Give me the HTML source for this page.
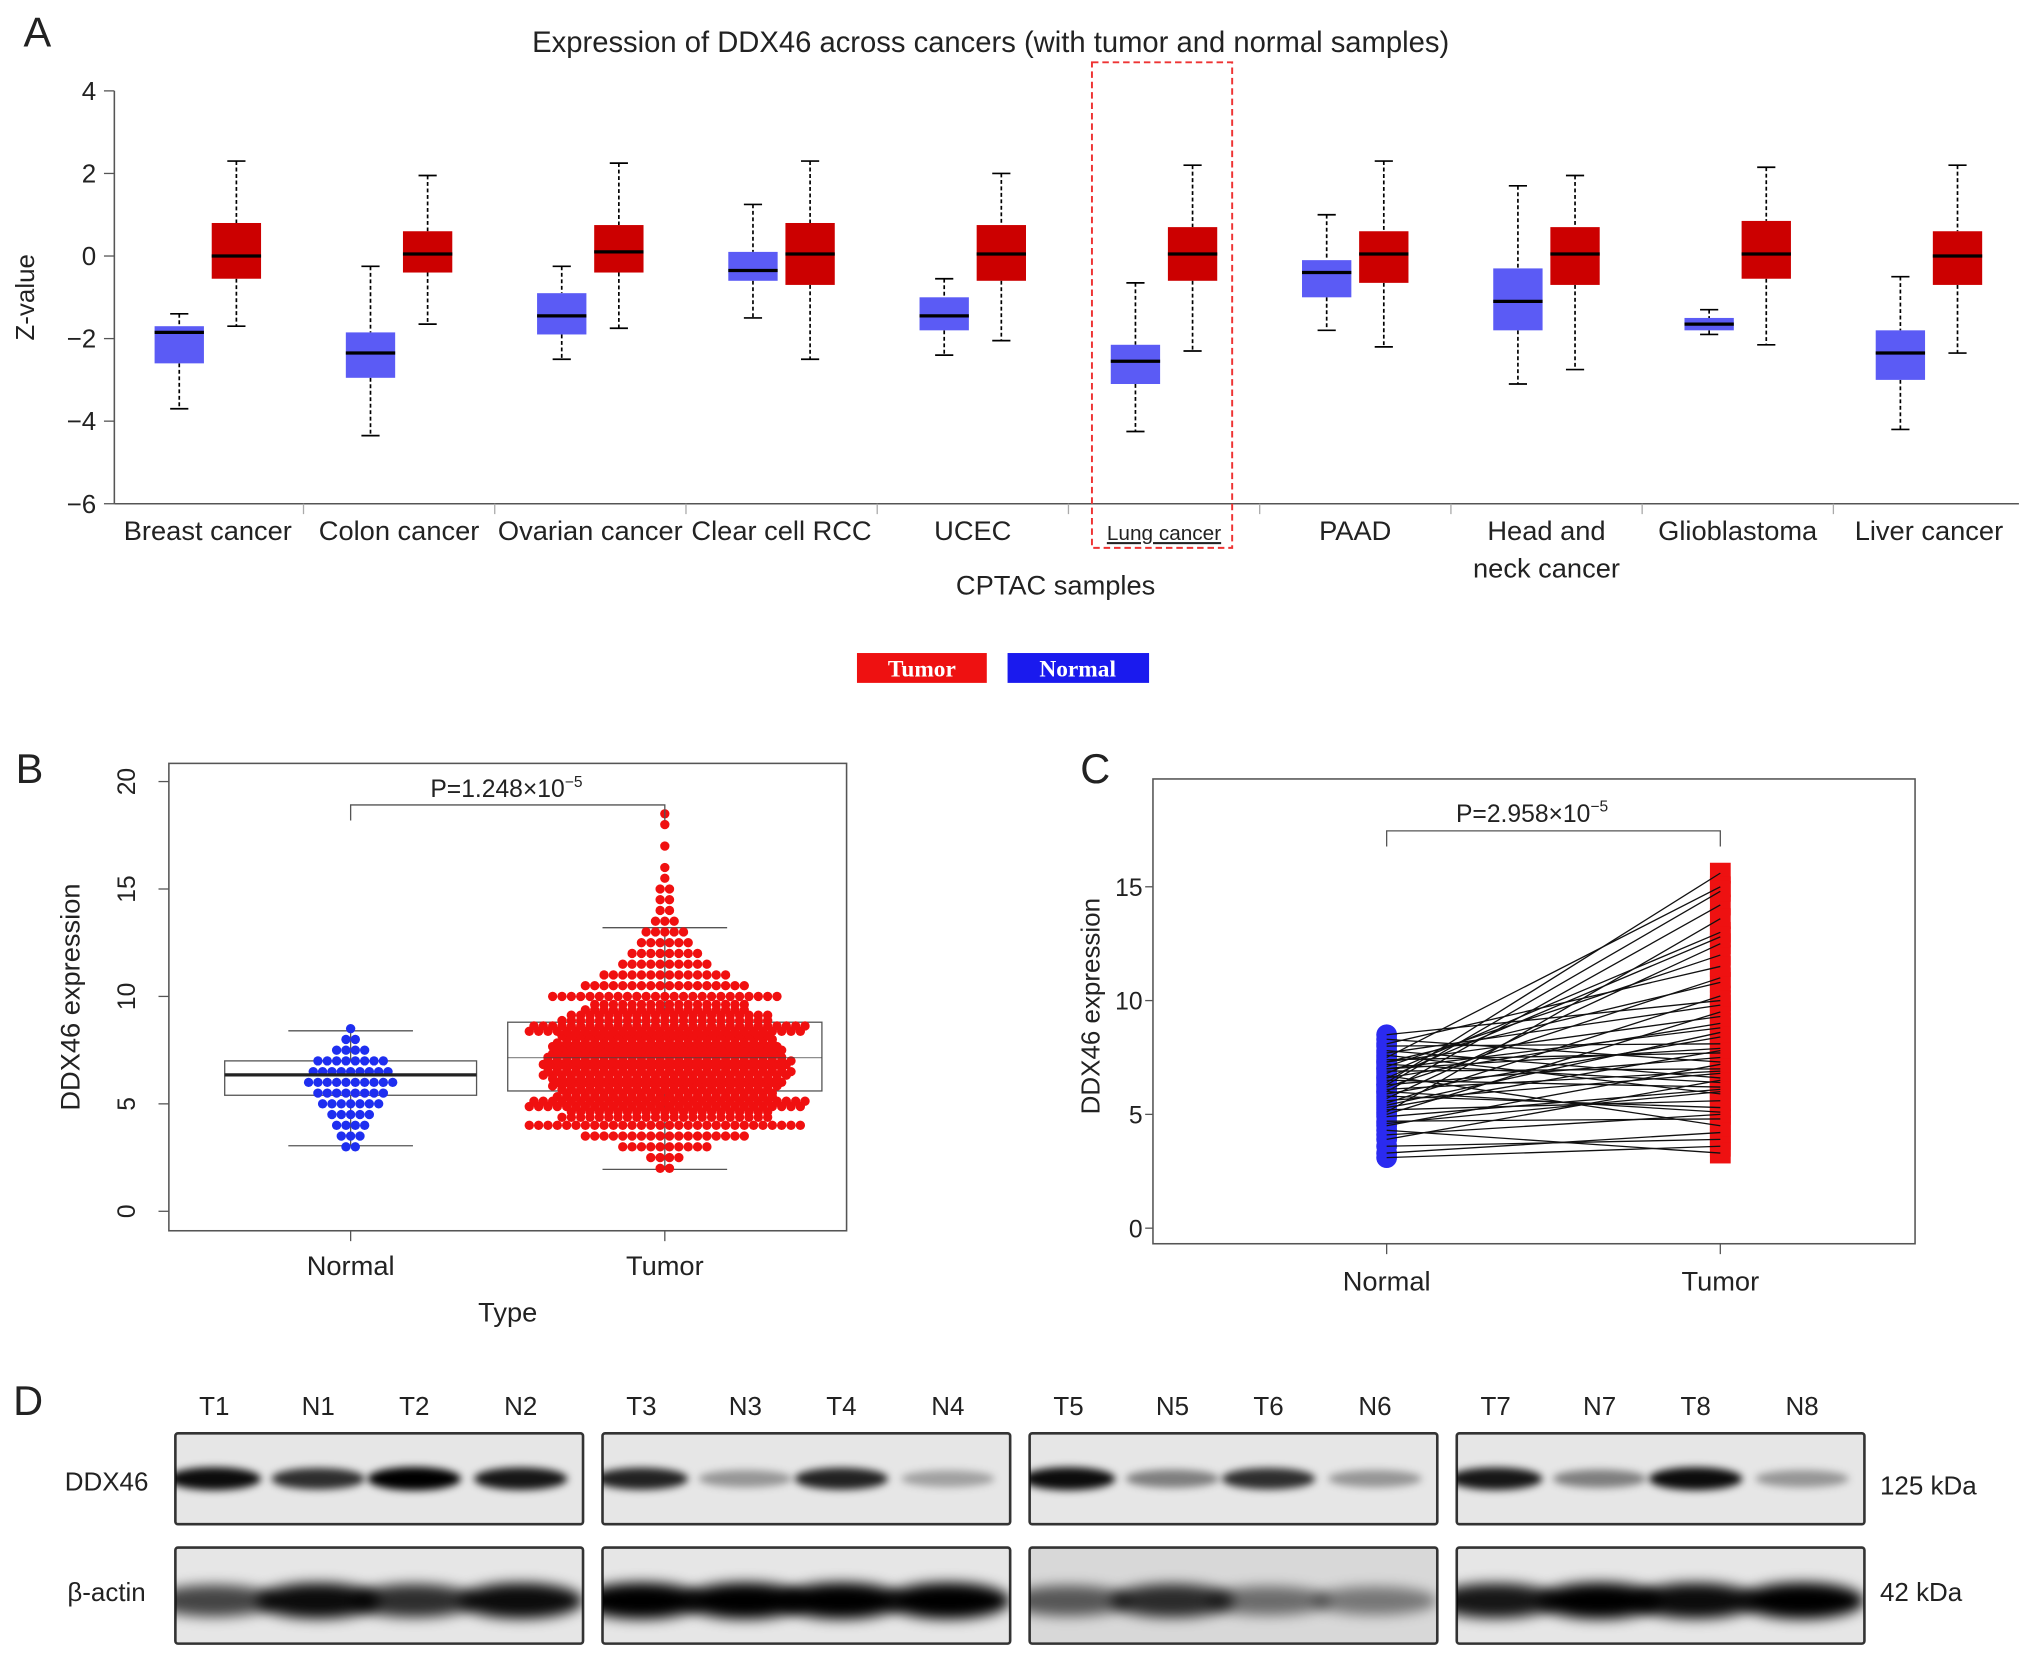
<!DOCTYPE html>
<html><head><meta charset="utf-8"><style>
html,body{margin:0;padding:0;background:#fff}
svg{display:block}
text{font-family:"Liberation Sans",sans-serif;fill:#222}
</style></head><body>
<svg id="fig" width="2032" height="1654" viewBox="0 0 1565 1274" xmlns="http://www.w3.org/2000/svg">
<defs>
<filter id="blur" x="-20%" y="-50%" width="140%" height="200%"><feGaussianBlur stdDeviation="3"/></filter>
<filter id="blur2" x="-20%" y="-50%" width="140%" height="200%"><feGaussianBlur stdDeviation="5"/></filter>
</defs>
<g id="panelA"></g>
<g id="panelB"></g>
<g id="panelC"></g>
<g id="panelD"></g>
</svg>
<script>
// ---------- Panel A data ----------
const catsA = ["Breast cancer","Colon cancer","Ovarian cancer","Clear cell RCC","UCEC","Lung cancer","PAAD","Head and|neck cancer","Glioblastoma","Liver cancer"];
const normalA = [[-3.7,-2.6,-1.85,-1.7,-1.4],[-4.35,-2.95,-2.35,-1.85,-0.25],[-2.5,-1.9,-1.45,-0.9,-0.25],[-1.5,-0.6,-0.35,0.1,1.25],[-2.4,-1.8,-1.45,-1.0,-0.55],[-4.25,-3.1,-2.55,-2.15,-0.65],[-1.8,-1.0,-0.4,-0.1,1.0],[-3.1,-1.8,-1.1,-0.3,1.7],[-1.9,-1.8,-1.65,-1.5,-1.3],[-4.2,-3.0,-2.35,-1.8,-0.5]];
const tumorA = [[-1.7,-0.55,0,0.8,2.3],[-1.65,-0.4,0.05,0.6,1.95],[-1.75,-0.4,0.1,0.75,2.25],[-2.5,-0.7,0.05,0.8,2.3],[-2.05,-0.6,0.05,0.75,2.0],[-2.3,-0.6,0.05,0.7,2.2],[-2.2,-0.65,0.05,0.6,2.3],[-2.75,-0.7,0.05,0.7,1.95],[-2.15,-0.55,0.05,0.85,2.15],[-2.35,-0.7,0,0.6,2.2]];
const ticksA = [4,2,0,-2,-4,-6];
// ---------- Panel B data ----------
const binsNormalB = [3,3.5,4,4.5,5,5.5,6,6.5,7,7.5,8,8.5];
const countsNormalB = [2,3,4,5,7,8,10,9,8,4,2,1];
const binsTumorB = [2,2.5,3,3.5,4,4.5,5,5.5,6,6.5,7,7.5,8,8.5,9,9.5,10,10.5,11,11.5,12,12.5,13,13.5,14,14.5,15,15.5,16,17,18,18.5];
const countsTumorB = [2,4,10,18,30,45,60,70,75,80,80,75,70,60,45,35,25,18,14,10,8,6,5,3,2,2,2,1,1,1,1,1];
const boxNormalB = [3.05,5.4,6.35,7.0,8.4];
const boxTumorB = [1.95,5.6,7.15,8.8,13.2];
const ticksB = [0,5,10,15,20];
// ---------- Panel C data ----------
const pairNormalC = [3.1,3.3,3.6,3.9,4.1,4.3,4.5,4.7,4.9,5.0,5.2,5.3,5.5,5.6,5.7,5.8,5.9,6.0,6.1,6.2,6.3,6.4,6.5,6.6,6.7,6.8,6.9,7.0,7.1,7.2,7.3,7.4,7.5,7.6,7.7,7.8,8.0,8.1,8.3,8.5,5.1,6.0,6.6,7.0,5.4,4.6,6.3,7.3];
const pairTumorC = [3.6,4.2,3.9,6.5,5.0,3.3,7.2,4.8,6.1,9.5,5.6,7.8,10.2,6.8,12.5,5.3,8.4,14.2,6.9,11.0,7.5,15.6,6.2,9.0,4.5,13.0,7.0,8.8,12.0,6.4,10.8,7.7,15.0,5.9,9.8,6.6,8.1,11.5,7.3,10.0,13.6,5.1,12.8,7.9,8.6,6.0,14.8,9.3];
const ticksC = [0,5,10,15];
// ---------- Panel D data ----------
const laneLabels = ["T1","N1","T2","N2","T3","N3","T4","N4","T5","N5","T6","N6","T7","N7","T8","N8"];
const ddxIntensity = [0.95,0.8,1,0.9,0.85,0.35,0.85,0.3,0.95,0.45,0.8,0.35,0.9,0.45,0.95,0.35];
const actinIntensity = [0.7,0.95,0.8,0.95,1,1,1,1,0.6,0.8,0.5,0.45,0.9,1,0.95,1];

const NS="http://www.w3.org/2000/svg";
function mk(parent,tag,attrs,txt){const e=document.createElementNS(NS,tag);for(const k in attrs)e.setAttribute(k,attrs[k]);if(txt!==undefined)e.textContent=txt;parent.appendChild(e);return e;}

// ===== Panel A =====
(function(){
const g=document.getElementById('panelA');
const yA=v=>70+(4-v)*31.8;
const xC=i=>160+i*147.3;
let t=mk(g,'text',{x:18,y:36,'font-size':32},'A');

t=mk(g,'text',{x:763,y:40,'font-size':22.5,'text-anchor':'middle'},'Expression of DDX46 across cancers (with tumor and normal samples)');

let l=mk(g,'line',{x1:88,y1:70,x2:88,y2:388,stroke:'#555','stroke-width':1.2});

l=mk(g,'line',{x1:88,y1:388,x2:1555,y2:388,stroke:'#555','stroke-width':1.2});

ticksA.forEach(v=>{
 mk(g,'line',{x1:80,y1:yA(v),x2:88,y2:yA(v),stroke:'#555'});
 const tt=mk(g,'text',{x:74,y:yA(v)+7,'font-size':20,'text-anchor':'end'},v<0?'−'+(-v):String(v));
 
});
t=mk(g,'text',{x:0,y:0,'font-size':20,'text-anchor':'middle',transform:'translate(26,229) rotate(-90)'},'Z-value');

function box(d,cx,fill,name){
 const bg=mk(g,'g',{});
 
 const w=38;
 mk(bg,'line',{x1:cx,y1:yA(d[4]),x2:cx,y2:yA(d[3]),stroke:'#000','stroke-dasharray':'3,2','stroke-width':1.3});
 mk(bg,'line',{x1:cx,y1:yA(d[1]),x2:cx,y2:yA(d[0]),stroke:'#000','stroke-dasharray':'3,2','stroke-width':1.3});
 mk(bg,'line',{x1:cx-7,y1:yA(d[4]),x2:cx+7,y2:yA(d[4]),stroke:'#000','stroke-width':1.3});
 mk(bg,'line',{x1:cx-7,y1:yA(d[0]),x2:cx+7,y2:yA(d[0]),stroke:'#000','stroke-width':1.3});
 mk(bg,'rect',{x:cx-w/2,y:yA(d[3]),width:w,height:yA(d[1])-yA(d[3]),fill:fill});
 mk(bg,'line',{x1:cx-w/2,y1:yA(d[2]),x2:cx+w/2,y2:yA(d[2]),stroke:'#000','stroke-width':2.5});
}
catsA.forEach((c,i)=>{
 const cx=xC(i);
 box(normalA[i],cx-22,'#5b5bf5','normal-box');
 box(tumorA[i],cx+22,'#cc0000','tumor-box');
 if(i>0){mk(g,'line',{x1:cx-73.6,y1:388,x2:cx-73.6,y2:396,stroke:'#aaa'});}
 const parts=c.split('|');
 const isLung=c==='Lung cancer';
 parts.forEach((p,j)=>{
  const tt=mk(g,'text',{x:cx,y:416+j*29,'font-size':isLung?16:21,'text-anchor':'middle','text-decoration':isLung?'underline':'none'},p);
  
 });
});
let r=mk(g,'rect',{x:841,y:48,width:108,height:374,fill:'none',stroke:'#e33','stroke-width':1.5,'stroke-dasharray':'5,3'});

t=mk(g,'text',{x:813,y:458,'font-size':21,'text-anchor':'middle'},'CPTAC samples');

const lg=mk(g,'g',{});

let le=mk(lg,'g',{});
mk(le,'rect',{x:660,y:503,width:100,height:23,fill:'#ee1111'});
mk(le,'text',{x:710,y:521,'font-size':18,'font-weight':'bold','text-anchor':'middle',style:'fill:#fff;font-family:"Liberation Serif",serif'},'Tumor');
le=mk(lg,'g',{});
mk(le,'rect',{x:776,y:503,width:109,height:23,fill:'#1a1aee'});
mk(le,'text',{x:830,y:521,'font-size':18,'font-weight':'bold','text-anchor':'middle',style:'fill:#fff;font-family:"Liberation Serif",serif'},'Normal');
})();

// ===== Panel B =====
(function(){
const g=document.getElementById('panelB');
const yB=v=>933-v*16.55;
const xN=270,xT=512;
let t=mk(g,'text',{x:12,y:603,'font-size':32},'B');

let r=mk(g,'rect',{x:130,y:588,width:522,height:360,fill:'none',stroke:'#555','stroke-width':1.2});

ticksB.forEach(v=>{
 mk(g,'line',{x1:122,y1:yB(v),x2:130,y2:yB(v),stroke:'#555'});
 const tt=mk(g,'text',{x:0,y:0,'font-size':19,'text-anchor':'middle',transform:`translate(104,${yB(v)}) rotate(-90)`},String(v));
 
});
t=mk(g,'text',{x:0,y:0,'font-size':21,'text-anchor':'middle',transform:'translate(61,768) rotate(-90)'},'DDX46 expression');

[[xN,'Normal'],[xT,'Tumor']].forEach(([x,s])=>{
 mk(g,'line',{x1:x,y1:948,x2:x,y2:956,stroke:'#555'});
 const tt=mk(g,'text',{x:x,y:982,'font-size':21,'text-anchor':'middle'},s);
 
});
t=mk(g,'text',{x:391,y:1018,'font-size':21,'text-anchor':'middle'},'Type');

function bx(d,cx,hw,name){
 const bg=mk(g,'g',{});
 mk(bg,'line',{x1:cx,y1:yB(d[4]),x2:cx,y2:yB(d[3]),stroke:'#555'});
 mk(bg,'line',{x1:cx,y1:yB(d[1]),x2:cx,y2:yB(d[0]),stroke:'#555'});
 mk(bg,'line',{x1:cx-48,y1:yB(d[4]),x2:cx+48,y2:yB(d[4]),stroke:'#555'});
 mk(bg,'line',{x1:cx-48,y1:yB(d[0]),x2:cx+48,y2:yB(d[0]),stroke:'#555'});
 mk(bg,'rect',{x:cx-hw,y:yB(d[3]),width:2*hw,height:yB(d[1])-yB(d[3]),fill:'none',stroke:'#555'});
 return bg;
}
bx(boxNormalB,xN,97,'normal-box');
bx(boxTumorB,xT,121,'tumor-box');
function swarm(bins,counts,cx,color,maxRow,name){
 const sg=mk(g,'g',{});
 bins.forEach((b,i)=>{
  let n=counts[i];let rows=Math.ceil(n/maxRow);let left=n;
  for(let r=0;r<rows;r++){
   const k=Math.ceil(left/(rows-r));left-=k;
   const v=b+(rows>1?(r-(rows-1)/2)*0.5/rows:0);
   for(let j=0;j<k;j++){
    const dx=(j-(k-1)/2)*7.2+(r%2?3.6:0);
    const c=mk(sg,'circle',{cx:cx+dx,cy:yB(v),r:3.6,fill:color});
    
   }
  }
 });
}
swarm(binsNormalB,countsNormalB,xN,'#1e2ef0',12,'normal-points');
swarm(binsTumorB,countsTumorB,xT,'#f01010',32,'tumor-points');
mk(g,'line',{x1:xT-121,y1:yB(boxTumorB[2]),x2:xT+121,y2:yB(boxTumorB[2]),stroke:'#444','stroke-width':1,opacity:0.6});
mk(g,'line',{x1:xN-97,y1:yB(boxNormalB[2]),x2:xN+97,y2:yB(boxNormalB[2]),stroke:'#222','stroke-width':2.5});
const br=mk(g,'path',{d:`M${xN},632 V620 H${xT} V632`,fill:'none',stroke:'#555'});

t=mk(g,'text',{x:390,y:614,'font-size':19,'text-anchor':'middle'});
t.innerHTML='P=1.248×10<tspan dy="-8" font-size="12">−5</tspan>';

})();

// ===== Panel C =====
(function(){
const g=document.getElementById('panelC');
const yC=v=>946-v*17.53;
const xN=1068,xT=1325;
let t=mk(g,'text',{x:832,y:603,'font-size':32},'C');

let r=mk(g,'rect',{x:888,y:600,width:587,height:358,fill:'none',stroke:'#555','stroke-width':1.2});

ticksC.forEach(v=>{
 mk(g,'line',{x1:882,y1:yC(v),x2:888,y2:yC(v),stroke:'#555'});
 const tt=mk(g,'text',{x:880,y:yC(v)+7,'font-size':19,'text-anchor':'end'},String(v));
 
});
t=mk(g,'text',{x:0,y:0,'font-size':20,'text-anchor':'middle',transform:'translate(847,775) rotate(-90)'},'DDX46 expression');

[[xN,'Normal'],[xT,'Tumor']].forEach(([x,s])=>{
 mk(g,'line',{x1:x,y1:958,x2:x,y2:966,stroke:'#555'});
 const tt=mk(g,'text',{x:x,y:994,'font-size':21,'text-anchor':'middle'},s);
 
});
const ng=mk(g,'g',{});
const tg=mk(g,'g',{});
const lg=mk(g,'g',{});
pairNormalC.forEach((n,i)=>{
 const c=mk(ng,'circle',{cx:xN,cy:yC(n),r:8,fill:'#2a2af0'});
 
 const s=mk(tg,'rect',{x:xT-8,y:yC(pairTumorC[i])-8,width:16,height:16,fill:'#ee1111'});
 
});
pairNormalC.forEach((n,i)=>{
 const l=mk(lg,'line',{x1:xN,y1:yC(n),x2:xT,y2:yC(pairTumorC[i]),stroke:'#111','stroke-width':1});
 
});
const br=mk(g,'path',{d:`M${xN},652 V640 H${xT} V652`,fill:'none',stroke:'#555'});

t=mk(g,'text',{x:1180,y:633,'font-size':19,'text-anchor':'middle'});
t.innerHTML='P=2.958×10<tspan dy="-8" font-size="12">−5</tspan>';

})();

// ===== Panel D =====
(function(){
const g=document.getElementById('panelD');
let t=mk(g,'text',{x:10,y:1090,'font-size':32},'D');

const px=[135,464,793,1122], pw=314;
const laneOff=[30,110,184,266];
laneLabels.forEach((s,i)=>{
 const p=Math.floor(i/4),k=i%4;
 const tt=mk(g,'text',{x:px[p]+laneOff[k],y:1090,'font-size':20,'text-anchor':'middle'},s);
 
});
t=mk(g,'text',{x:82,y:1148,'font-size':20,'text-anchor':'middle'},'DDX46');

t=mk(g,'text',{x:82,y:1233,'font-size':20,'text-anchor':'middle'},'β-actin');

t=mk(g,'text',{x:1448,y:1151,'font-size':20},'125 kDa');

t=mk(g,'text',{x:1448,y:1233,'font-size':20},'42 kDa');

px.forEach((x,p)=>{
 [[1104,70,ddxIntensity,'ddx46-blot',18],[1192,74,actinIntensity,'actin-blot',28]].forEach(([y,h,arr,name,bh])=>{
  const bg=mk(g,'g',{});
  const bgc=p===2&&name==='actin-blot'?'#d8d8d8':'#e6e6e6';
  mk(bg,'rect',{x:x,y:y,width:pw,height:h,fill:bgc,stroke:'#333','stroke-width':2,rx:2});
  const cl=mk(bg,'clipPath',{id:'c'+name+p});mk(cl,'rect',{x:x,y:y,width:pw,height:h});
  const inner=mk(bg,'g',{'clip-path':`url(#c${name}${p})`});
  for(let k=0;k<4;k++){
   const v=arr[p*4+k];
   const cx=x+laneOff[k];
   const e=mk(inner,'ellipse',{cx:cx,cy:y+h/2+(name==='actin-blot'?4:0),rx:name==='actin-blot'?48:36,ry:bh/2*(0.6+0.4*v),fill:'#000','fill-opacity':v,filter:name==='actin-blot'?'url(#blur2)':'url(#blur)'});
   
  }
 });
});
})();
</script>
</body></html>
